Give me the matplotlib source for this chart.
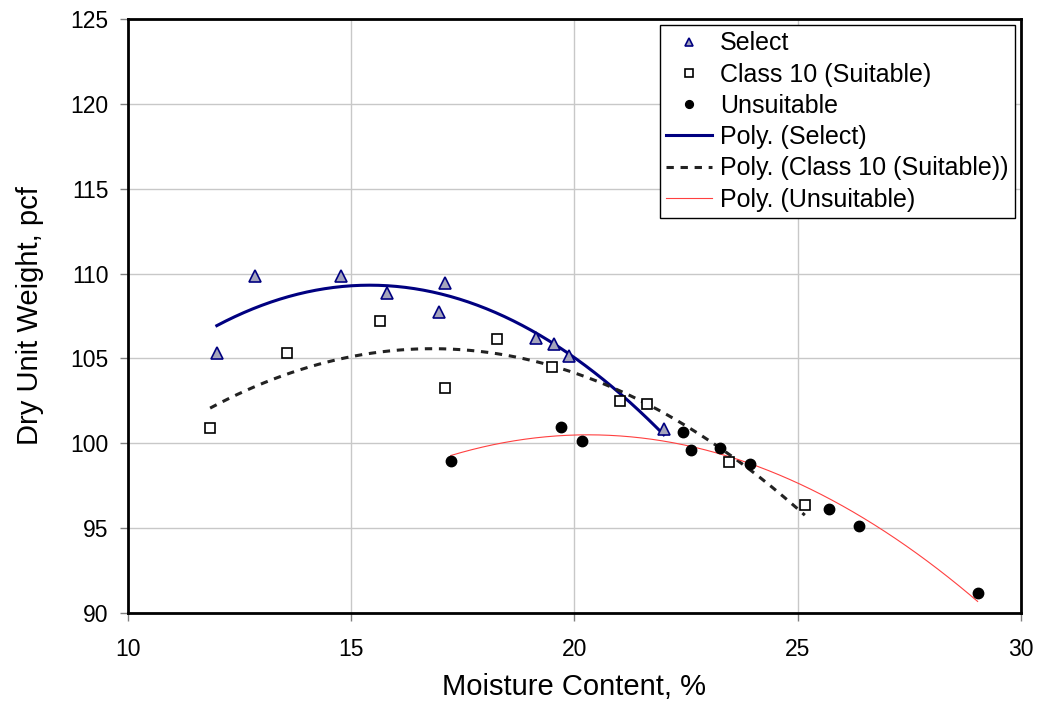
import numpy as np
import matplotlib
matplotlib.use('Agg')
import matplotlib.pyplot as plt

plt.rcParams['font.family'] = ['Liberation Sans', 'DejaVu Sans']

# Select
select_x = [11.99, 12.85, 14.77, 15.81, 16.96, 17.11, 19.13, 19.54, 19.87, 22.00]
select_y = [105.31, 109.87, 109.87, 108.85, 107.76, 109.44, 106.19, 105.86, 105.15, 100.82]

# Class 10 (Suitable)
class10_x = [11.84, 13.57, 15.65, 17.09, 18.27, 19.50, 21.02, 21.63, 23.46, 25.16]
class10_y = [100.88, 105.31, 107.23, 103.26, 106.13, 104.52, 102.51, 102.31, 98.91, 96.37]

# Unsuitable
unsuit_x = [17.23, 19.69, 20.17, 22.43, 22.60, 23.26, 23.93, 25.70, 26.37, 29.03]
unsuit_y = [98.97, 100.97, 100.15, 100.68, 99.60, 99.73, 98.77, 96.12, 95.11, 91.20]


def poly_line(x, y):
    coef = np.polyfit(x, y, 2)
    xs = np.linspace(min(x), max(x), 200)
    return xs, np.polyval(coef, xs)


fig = plt.figure(figsize=(10.37, 7.04), dpi=100)
ax = fig.add_axes([0.1234, 0.1293, 0.8611, 0.8438])

ax.plot(select_x, select_y, linestyle='none', marker='^', markersize=8,
        markerfacecolor='#A4A4BC', markeredgecolor='#000080', markeredgewidth=1.2,
        label='Select', zorder=4)
ax.plot(class10_x, class10_y, linestyle='none', marker='s', markersize=7,
        markerfacecolor='white', markeredgecolor='black', markeredgewidth=1.2,
        label='Class 10 (Suitable)', zorder=4)
ax.plot(unsuit_x, unsuit_y, linestyle='none', marker='o', markersize=7.5,
        color='black', label='Unsuitable', zorder=4)

xs, ys = poly_line(select_x, select_y)
ax.plot(xs, ys, color='#000080', lw=2.2, label='Poly. (Select)', zorder=3)
xs, ys = poly_line(class10_x, class10_y)
ax.plot(xs, ys, color='#222222', lw=2.2, linestyle=(0, (2.4, 2.2)),
        label='Poly. (Class 10 (Suitable))', zorder=3)
xs, ys = poly_line(unsuit_x, unsuit_y)
ax.plot(xs, ys, color='#FF4040', lw=0.8, label='Poly. (Unsuitable)', zorder=3)

ax.set_xlim(10, 30)
ax.set_ylim(90, 125)
ax.set_xticks(np.arange(10, 31, 5))
ax.set_yticks(np.arange(90, 126, 5))
ax.grid(True, color='#C8C8C8', lw=1)
ax.set_axisbelow(True)
for s in ax.spines.values():
    s.set_linewidth(2)
    s.set_color('black')
ax.tick_params(axis='both', direction='out', length=6, width=1, color='#808080',
               labelsize=16.5)
ax.tick_params(axis='y', pad=8)
ax.tick_params(axis='x', pad=12)

ax.set_xlabel('Moisture Content, %', fontsize=21, labelpad=9)
ax.set_ylabel('Dry Unit Weight, pcf', fontsize=21, labelpad=19)

leg = ax.legend(loc='upper right', fontsize=18, frameon=True, fancybox=False,
                edgecolor='black', framealpha=1, borderaxespad=0.25,
                handlelength=1.85, handletextpad=0.3, labelspacing=0.29,
                borderpad=0.25, markerscale=0.75)
leg.get_frame().set_linewidth(1)

fig.savefig('out.png', dpi=100)
